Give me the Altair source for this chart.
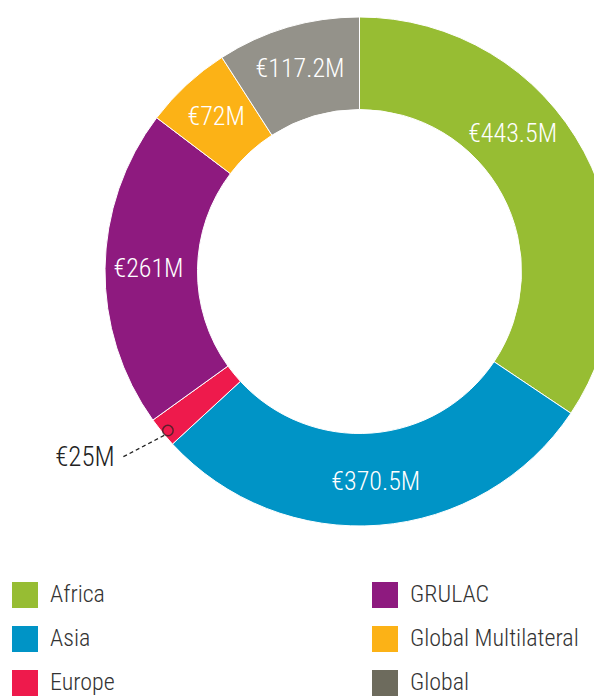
import altair as alt
import pandas as pd
import numpy as np

# ---- data ----
regions = ["Africa", "Asia", "Europe", "GRULAC", "Global Multilateral", "Global"]
amounts = [443.5, 370.5, 25, 261, 72, 117.2]
value_labels = ["€443.5M", "€370.5M", "€25M", "€261M", "€72M", "€117.2M"]
slice_colors = ["#97BD33", "#0094C6", "#EE1A4C", "#8E1A7F", "#FCB216", "#94928A"]
legend_colors = ["#97BD33", "#0094C6", "#EE1A4C", "#8E1A7F", "#FCB216", "#6D6B5D"]
legend_col = [0, 0, 0, 1, 1, 1]
legend_row = [0, 1, 2, 0, 1, 2]
outside_region = "Europe"
offset_region = "Africa"

# ---- layout ----
W, H = 586, 688
CX, CY = 351.5, 263.5
R_OUT, R_IN = 254.5, 162
FONT = "'Roboto Condensed', 'DejaVu Sans Condensed', 'Liberation Sans Narrow', sans-serif"

df = pd.DataFrame({
    "region": regions,
    "amount": amounts,
    "idx": list(range(len(regions))),
    "inner_label": [l if r not in (outside_region, offset_region) else "" for r, l in zip(regions, value_labels)],
    "offset_label": [l if r == offset_region else "" for r, l in zip(regions, value_labels)],
})

base = alt.Chart(df)

arcs = base.mark_arc(outerRadius=R_OUT, innerRadius=R_IN, stroke="white", strokeWidth=1).encode(
    theta=alt.Theta("amount:Q", stack=True),
    color=alt.Color("region:N", scale=alt.Scale(domain=regions, range=slice_colors), legend=None),
    order=alt.Order("idx:Q"),
    x=alt.value(CX), y=alt.value(CY),
)

inner_text = base.mark_text(radius=211, font=FONT, fontSize=26, fontWeight=300, color="white",
                            align="center", baseline="middle").encode(
    theta=alt.Theta("amount:Q", stack=True),
    order=alt.Order("idx:Q"),
    text="inner_label:N",
    x=alt.value(CX), y=alt.value(CY),
)

offset_text = base.mark_text(radius=211, font=FONT, fontSize=26, fontWeight=300, color="white",
                             align="center", baseline="middle", dx=-33, dy=-38).encode(
    theta=alt.Theta("amount:Q", stack=True),
    order=alt.Order("idx:Q"),
    text="offset_label:N",
    x=alt.value(CX), y=alt.value(CY),
)

# ---- Europe annotation (outside label with leader) ----
total = float(np.sum(amounts))
cum = np.cumsum(amounts)
i_e = regions.index(outside_region)
mid = ((cum[i_e] - amounts[i_e] / 2) / total) * 2 * np.pi
ang2 = mid + np.radians(1.2)
r_dot, r_line0, r_line1 = 249, 255, 303
ann = pd.DataFrame({
    "px": [r_dot * np.sin(mid - np.radians(0.5))],
    "py": [-r_dot * np.cos(mid - np.radians(0.5))],
    "x0": [r_line0 * np.sin(mid - np.radians(0.8))],
    "y0": [-r_line0 * np.cos(mid - np.radians(0.8))],
    "x1": [r_line1 * np.sin(ang2)],
    "y1": [-r_line1 * np.cos(ang2)],
    "label": [value_labels[i_e]],
})
xs = alt.Scale(domain=[-CX, W - CX], range=[0, W])
ys = alt.Scale(domain=[-CY, H - CY], range=[0, H])
annb = alt.Chart(ann)
dot = annb.mark_point(shape="circle", filled=False, stroke="#222222", strokeWidth=1.5, size=110).encode(
    x=alt.X("px:Q", scale=xs, axis=None), y=alt.Y("py:Q", scale=ys, axis=None))
leader = annb.mark_rule(stroke="#222222", strokeWidth=1.3, strokeDash=[4, 3]).encode(
    x=alt.X("x0:Q", scale=xs, axis=None), y=alt.Y("y0:Q", scale=ys, axis=None),
    x2="x1:Q", y2="y1:Q")
ann_text = annb.mark_text(font=FONT, fontSize=27, fontWeight=300, color="#222222", align="right",
                          baseline="middle", dx=-6).encode(
    x=alt.X("x1:Q", scale=xs, axis=None), y=alt.Y("y1:Q", scale=ys, axis=None), text="label:N")

# ---- legend ----
leg = pd.DataFrame({"region": regions, "lcolor": legend_colors, "col": legend_col, "row": legend_row})
lx = alt.Scale(domain=[0, 1], range=[17, 377])
ly = alt.Scale(domain=[0, 2], range=[587, 675])
legb = alt.Chart(leg)
leg_sq = legb.mark_square(size=676, opacity=1).encode(
    x=alt.X("col:Q", scale=lx, axis=None), y=alt.Y("row:Q", scale=ly, axis=None),
    color=alt.Color("lcolor:N", scale=None))
leg_tx = legb.mark_text(font=FONT, fontSize=24, fontWeight=300, color="#333333", align="left",
                        baseline="middle", dx=25).encode(
    x=alt.X("col:Q", scale=lx, axis=None), y=alt.Y("row:Q", scale=ly, axis=None), text="region:N")

chart = alt.layer(arcs, inner_text, offset_text, leader, dot, ann_text, leg_sq, leg_tx).resolve_scale(
    x="independent", y="independent", color="independent"
).properties(
    width=W, height=H, autosize=alt.AutoSizeParams(type="none"), padding=0
).configure_view(stroke=None)

chart.save("out.html", embed_options={"renderer": "svg", "actions": False})
